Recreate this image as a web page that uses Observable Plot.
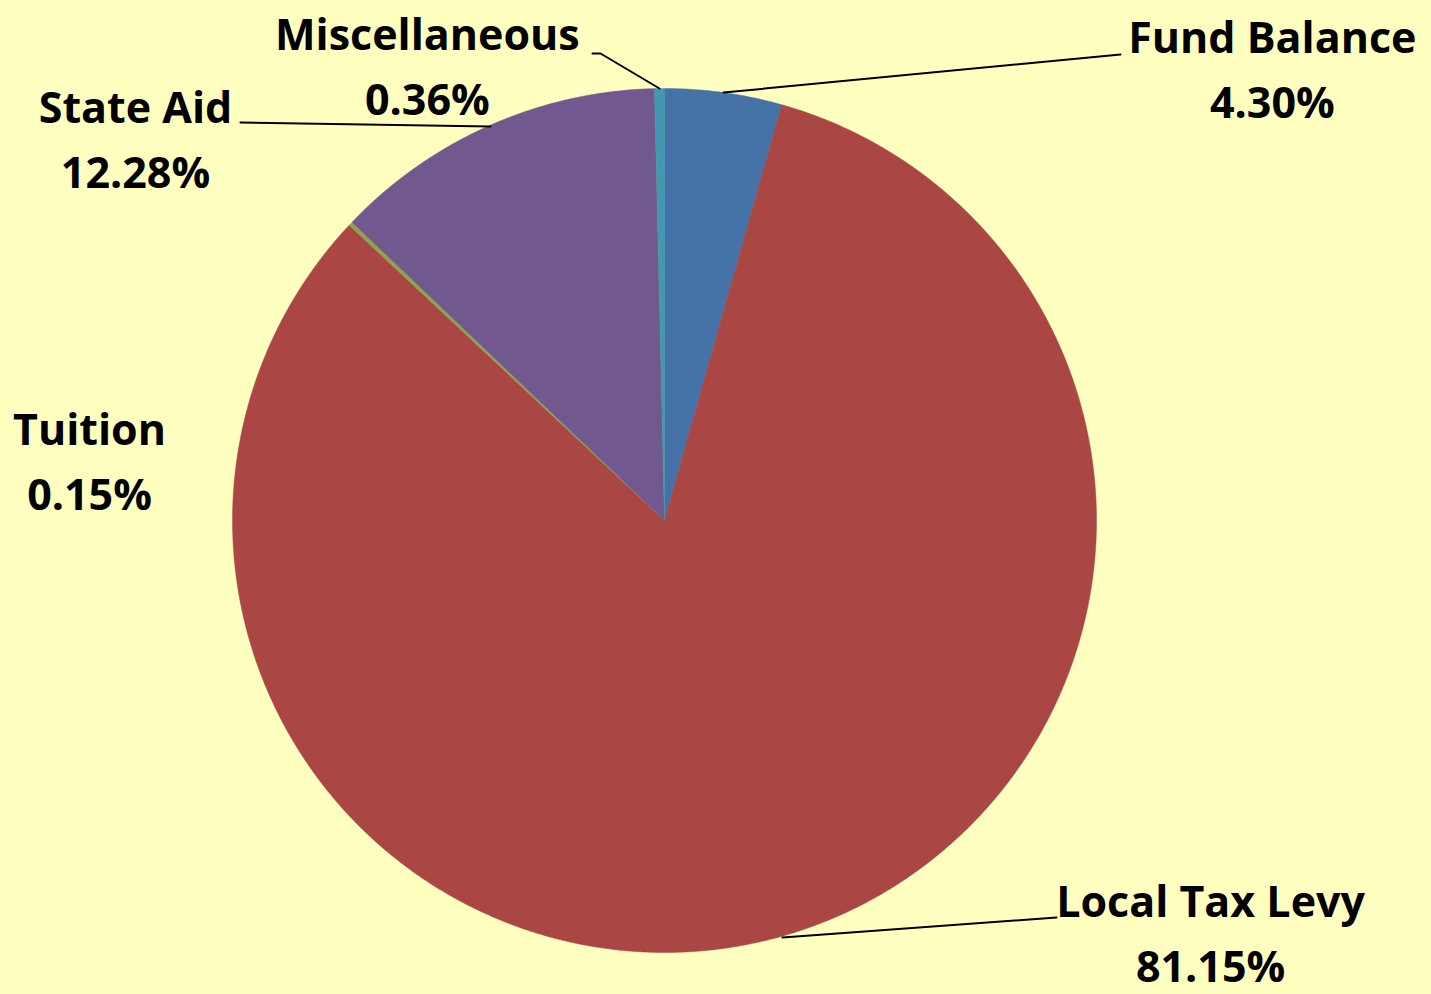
<!DOCTYPE html>
<html>
<head>
<meta charset="utf-8">
<script src="https://cdn.jsdelivr.net/npm/d3@7"></script>
<script src="https://cdn.jsdelivr.net/npm/@observablehq/plot@0.6"></script>
<style>
  html, body { margin: 0; padding: 0; background: #FFFFC0; }
  #chart svg { display: block; }
</style>
</head>
<body>
<div id="chart"></div>
<script>
// ---- Data ----
const categories = ["Fund Balance", "Local Tax Levy", "Tuition", "State Aid", "Miscellaneous"];
const values = [4.30, 81.15, 0.15, 12.28, 0.36];
const valueLabels = ["4.30%", "81.15%", "0.15%", "12.28%", "0.36%"];
const colors = ["#4572A7", "#AA4643", "#89A54E", "#71588F", "#4198AF"];

// ---- Layout (label anchors and leader lines, in chart units where pie radius = 1) ----
const labelX = [1.407, 1.264, -1.331, -1.2245, -0.549];
const labelY = [1.046, -0.954, 0.139, 0.884, 1.053];
const leaders = [
  [[1.0556, 1.0787], [0.1366, 0.9907]],
  [[0.9074, -0.9190], [0.2731, -0.9653]],
  [],
  [[-0.9815, 0.9213], [-0.4028, 0.9120]],
  [[-0.1667, 1.0810], [-0.1481, 1.0810], [-0.0116, 1.0]]
];

// ---- Build slices ----
const rows = categories.map((c, i) => ({category: c, value: values[i], i}));
const arcs = d3.pie().sort(null).value(d => d.value)(rows);
const slicePts = [];
for (const a of arcs) {
  const n = Math.max(2, Math.ceil((a.endAngle - a.startAngle) / (Math.PI / 720)));
  slicePts.push({category: a.data.category, x: 0, y: 0});
  for (let k = 0; k <= n; k++) {
    const t = a.startAngle + (a.endAngle - a.startAngle) * k / n;
    slicePts.push({category: a.data.category, x: Math.sin(t), y: Math.cos(t)});
  }
  slicePts.push({category: a.data.category, x: 0, y: 0});
}
const leaderPts = [];
leaders.forEach((pts, i) => pts.forEach(p => leaderPts.push({category: categories[i], x: p[0], y: p[1]})));
const labels = categories.map((c, i) => ({text: c + "\n" + valueLabels[i], x: labelX[i], y: labelY[i]}));

const cx = 664, cy = 520, R = 432, W = 1431, H = 994;

const chart = Plot.plot({
  width: W,
  height: H,
  marginLeft: cx - R,
  marginRight: W - (cx + R),
  marginTop: cy - R,
  marginBottom: H - (cy + R),
  x: {domain: [-1, 1], axis: null},
  y: {domain: [-1, 1], axis: null},
  color: {domain: categories, range: colors},
  style: {background: "#FFFFC0", fontFamily: "'Open Sans', sans-serif"},
  marks: [
    Plot.line(slicePts, {x: "x", y: "y", z: "category", fill: "category", stroke: "category", strokeWidth: 0.5, curve: "linear"}),
    Plot.line(leaderPts, {x: "x", y: "y", z: "category", stroke: "#000", strokeWidth: 2}),
    Plot.text(labels, {x: "x", y: "y", text: "text", fontSize: 43, fontWeight: "bold", fill: "#000", lineHeight: 1.52, lineAnchor: "middle", textAnchor: "middle", dy: -4})
  ]
});
document.getElementById("chart").appendChild(chart);
</script>
</body>
</html>
